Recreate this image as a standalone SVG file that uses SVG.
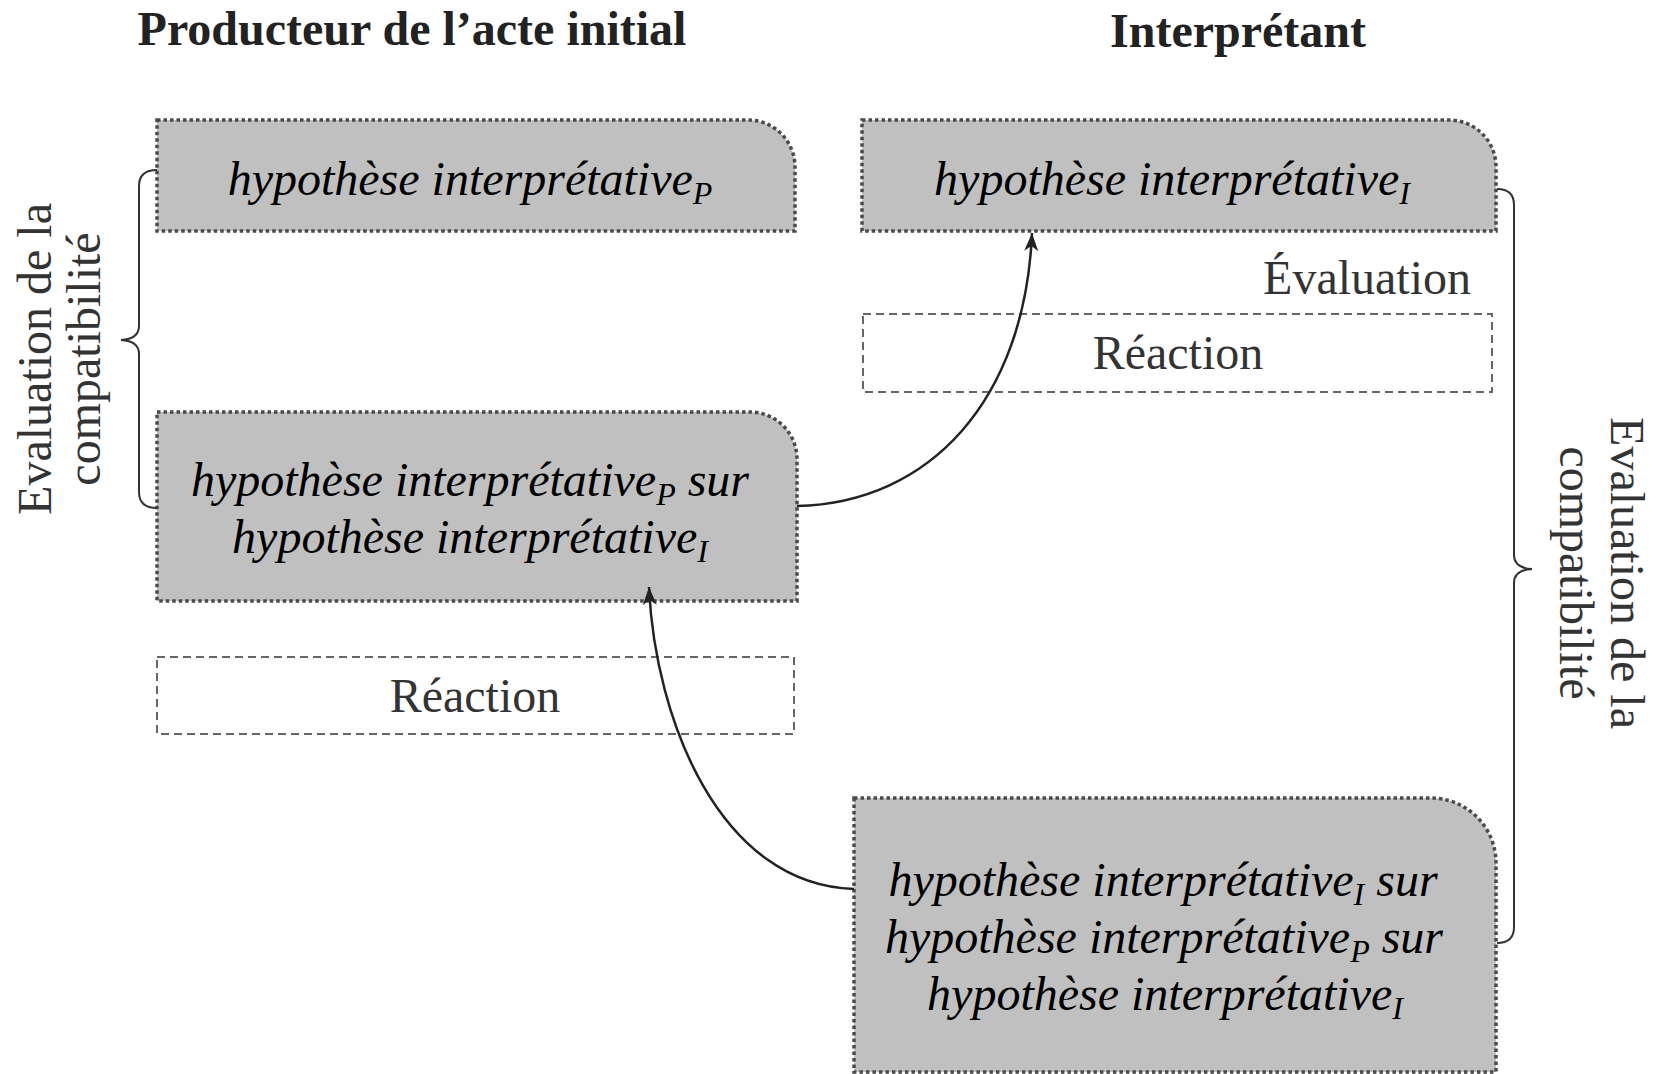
<svg xmlns="http://www.w3.org/2000/svg" width="1662" height="1074" viewBox="0 0 1662 1074">
<style>
.title{font-family:"Liberation Serif","Times New Roman",serif;font-weight:bold;font-size:48px;fill:#222;text-anchor:middle}
.reg{font-family:"Liberation Serif","Times New Roman",serif;font-size:48px;fill:#333}
.it{font-family:"Liberation Serif","Times New Roman",serif;font-style:italic;font-size:48px;fill:#000;text-anchor:middle}
.sub{font-size:32px}
.hyp{fill:#c0c0c0;stroke:#4a4a4a;stroke-width:3.5;stroke-dasharray:3.5 3}
.rea{fill:#fff;stroke:#666;stroke-width:2;stroke-dasharray:8 5}
.brace{fill:none;stroke:#333;stroke-width:2}
.conn{fill:none;stroke:#222;stroke-width:2.5}
</style>
<defs>
<marker id="ah" viewBox="0 0 20 16" refX="18" refY="8" markerWidth="20" markerHeight="16" markerUnits="userSpaceOnUse" orient="auto">
<path d="M0,1 L18,8 L0,15 L5,8 Z" fill="#222"/>
</marker>
</defs>
<rect width="1662" height="1074" fill="#fff"/>
<g id="titles">
<text class="title" x="412" y="45">Producteur de l’acte initial</text>
<text class="title" x="1238" y="47">Interprétant</text>
</g>
<g id="node-hip-p">
<path class="hyp" d="M157,120 H748 A47,47 0 0 1 795,167 V231 H157 Z"/>
<text class="it" x="470" y="195">hypothèse interprétative<tspan class="sub" dy="9">P</tspan></text>
</g>
<g id="node-hip-i">
<path class="hyp" d="M862,120 H1449 A47,47 0 0 1 1496,167 V231 H862 Z"/>
<text class="it" x="1172" y="195">hypothèse interprétative<tspan class="sub" dy="9">I</tspan></text>
</g>
<g id="label-evaluation">
<text class="reg" x="1471" y="294" text-anchor="end">Évaluation</text>
</g>
<g id="node-reaction-i">
<rect class="rea" x="863" y="314" width="629" height="78"/>
<text class="reg" x="1178" y="369" text-anchor="middle">Réaction</text>
</g>
<g id="node-hip-p-sur-i">
<path class="hyp" d="M157,412 H750 A47,47 0 0 1 797,459 V601 H157 Z"/>
<text class="it" x="470" y="496">hypothèse interprétative<tspan class="sub" dy="9">P</tspan><tspan dy="-9"> sur</tspan></text>
<text class="it" x="470" y="553">hypothèse interprétative<tspan class="sub" dy="9">I</tspan></text>
</g>
<g id="node-reaction-p">
<rect class="rea" x="157" y="657" width="637" height="77"/>
<text class="reg" x="475" y="712" text-anchor="middle">Réaction</text>
</g>
<g id="node-hip-i-sur-p-sur-i">
<path class="hyp" d="M854,798 H1431 A65,65 0 0 1 1496,863 V1072 H854 Z"/>
<text class="it" x="1163" y="896">hypothèse interprétative<tspan class="sub" dy="9">I</tspan><tspan dy="-9"> sur</tspan></text>
<text class="it" x="1164" y="953">hypothèse interprétative<tspan class="sub" dy="9">P</tspan><tspan dy="-9"> sur</tspan></text>
<text class="it" x="1165" y="1010">hypothèse interprétative<tspan class="sub" dy="9">I</tspan></text>
</g>
<g id="brace-left">
<path class="brace" d="M157,170 Q139,170 139,186 L139,326 Q139,339 121,340 Q139,341 139,354 L139,492 Q139,508 157,508"/>
<text class="reg" transform="translate(51,359) rotate(-90)" text-anchor="middle">Evaluation de la</text>
<text class="reg" transform="translate(100,359) rotate(-90)" text-anchor="middle">compatibilité</text>
</g>
<g id="brace-right">
<path class="brace" d="M1497,189 Q1514,189 1514,205 L1514,555 Q1514,568 1532,569 Q1514,570 1514,583 L1514,927 Q1514,943 1497,943"/>
<text class="reg" transform="translate(1611,573) rotate(90)" text-anchor="middle">Evaluation de la</text>
<text class="reg" transform="translate(1560,573) rotate(90)" text-anchor="middle">compatibilité</text>
</g>
<g id="connectors">
<path class="conn" d="M797,506 C930,503 1025,400 1032,233" marker-end="url(#ah)"/>
<path class="conn" d="M854,889 C720,885 655,720 649,587" marker-end="url(#ah)"/>
</g>
</svg>
